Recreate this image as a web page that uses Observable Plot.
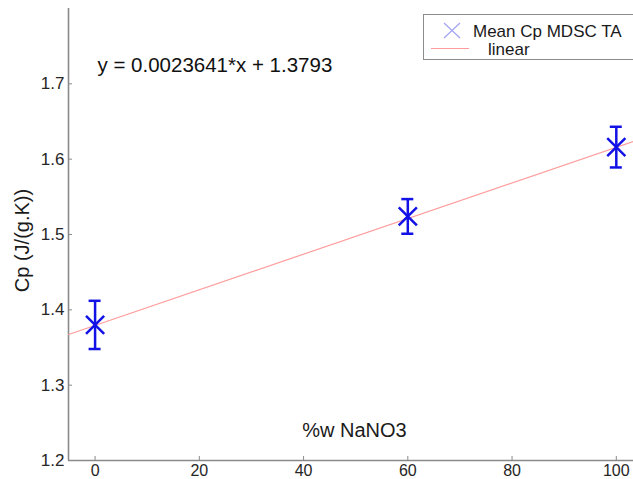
<!DOCTYPE html>
<html>
<head>
<meta charset="utf-8">
<script src="https://cdn.jsdelivr.net/npm/d3@7"></script>
<script src="https://cdn.jsdelivr.net/npm/@observablehq/plot@0.6"></script>
<style>
  html, body { margin: 0; padding: 0; background: #fff; overflow: hidden; }
  #wrap { position: relative; width: 633px; height: 479px; font-family: "Liberation Sans", Arial, sans-serif; }
  #legend { position: absolute; left: 423px; top: 14px; width: 240px; height: 46px; border: 1px solid #8c8c8c; background: #fff; box-sizing: border-box; }
  #legend svg { position: absolute; left: 0; top: 0; }
</style>
</head>
<body>
<div id="wrap"></div>
<script>
// ---- data ----
const pctNaNO3 = [0, 60, 100];                 // %w NaNO3
const cpMean   = [1.380, 1.524, 1.616];        // mean Cp (J/(g.K))
const cpErr    = [0.032, 0.023, 0.027];        // error half-widths
const fitX     = [-5.1, 103.3];                // linear fit end points (x)
const fitY     = [1.3673, 1.6235];             // linear fit end points (y)
const xTicks   = [0, 20, 40, 60, 80, 100];
const yTicks   = [1.2, 1.3, 1.4, 1.5, 1.6, 1.7];
const xDomain  = [-5.1, 103.3];
const yDomain  = [1.2, 1.8];
const equation = "y = 0.0023641*x + 1.3793";
const xLabel   = "%w NaNO3";
const yLabel   = "Cp (J/(g.K))";
const legendLabels = ["Mean Cp MDSC TA", "linear"];

const points = pctNaNO3.map((x, i) => ({x, y: cpMean[i], lo: cpMean[i] - cpErr[i], hi: cpMean[i] + cpErr[i]}));
const fit = fitX.map((x, i) => ({x, y: fitY[i]}));

const W = 633, H = 479, mL = 68, mR = 0, mT = 8, mB = 19;
const plotW = W - mL - mR, plotH = H - mT - mB;
const blue = "#1212e6", pink = "#ff9c9c", axisGray = "#8a8a8a";

const chart = Plot.plot({
  width: W, height: H,
  marginLeft: mL, marginRight: mR, marginTop: mT, marginBottom: mB,
  style: {fontFamily: "Liberation Sans, Arial, sans-serif", fontSize: "17px", color: "#262626", background: "#fff", overflow: "visible"},
  x: {domain: xDomain},
  y: {domain: yDomain},
  marks: [
    // axis lines
    Plot.ruleX([xDomain[0]], {stroke: axisGray, strokeWidth: 1.6}),
    Plot.ruleY([yDomain[0]], {stroke: axisGray, strokeWidth: 1.6}),
    // inward ticks
    Plot.ruleX(xTicks, {y1: yDomain[1], y2: yDomain[0], insetTop: plotH - 4, stroke: axisGray}),
    Plot.ruleY(yTicks, {x1: xDomain[0], x2: xDomain[1], insetRight: plotW - 4, stroke: axisGray}),
    Plot.axisX({ticks: xTicks, tickSize: 0, tickPadding: 4, label: null, fontSize: 16}),
    Plot.axisY({ticks: yTicks, tickSize: 0, tickPadding: 4, label: null, tickFormat: d3.format(".1f")}),
    // linear fit
    Plot.line(fit, {x: "x", y: "y", stroke: pink, strokeWidth: 1.2}),
    // error bars
    Plot.ruleX(points, {x: "x", y1: "lo", y2: "hi", stroke: blue, strokeWidth: 2.5}),
    Plot.ruleY(points, {y: "lo", x1: "x", x2: "x", insetLeft: -6, insetRight: -6, stroke: blue, strokeWidth: 2.5}),
    Plot.ruleY(points, {y: "hi", x1: "x", x2: "x", insetLeft: -6, insetRight: -6, stroke: blue, strokeWidth: 2.5}),
    // markers
    Plot.dot(points, {x: "x", y: "y", symbol: "times", r: 8.3, stroke: blue, strokeWidth: 2.5}),
    // texts
    Plot.text([equation], {frameAnchor: "top-left", dx: 29, dy: 57, textAnchor: "start", lineAnchor: "middle", fontSize: 20.5, fill: "#111"}),
    Plot.text([xLabel], {frameAnchor: "bottom", dx: 3.5, dy: -30, textAnchor: "middle", lineAnchor: "middle", fontSize: 20, fill: "#1a1a1a"}),
    Plot.text([yLabel], {frameAnchor: "left", dx: -46, dy: 6, rotate: -90, textAnchor: "middle", lineAnchor: "middle", fontSize: 20, fill: "#1a1a1a"})
  ]
});

const wrap = document.getElementById("wrap");
wrap.appendChild(chart);

// legend
const legend = document.createElement("div");
legend.id = "legend";
legend.innerHTML = `
<svg width="240" height="46" font-family="Liberation Sans, Arial, sans-serif" font-size="17" fill="#1a1a1a">
  <path d="M20,8 L36,23 M36,8 L20,23" stroke="#a6a6f2" stroke-width="1.3" fill="none"/>
  <line x1="7" x2="45" y1="33.5" y2="33.5" stroke="${pink}" stroke-width="1.2"/>
  <text x="49" y="22">${legendLabels[0]}</text>
  <text x="64" y="40">${legendLabels[1]}</text>
</svg>`;
wrap.appendChild(legend);
</script>
</body>
</html>
